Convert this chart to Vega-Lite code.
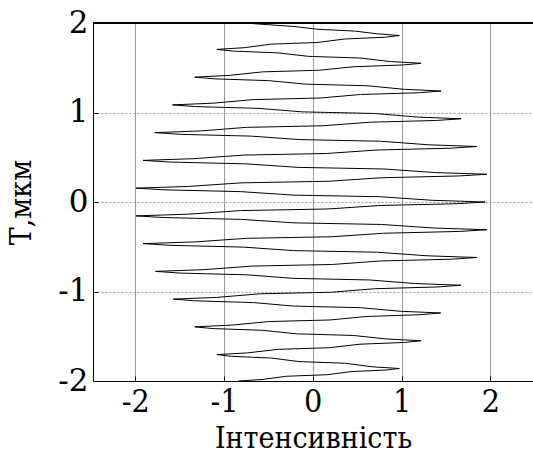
{
  "$schema": "https://vega.github.io/schema/vega-lite/v6.json",
  "width": 440,
  "height": 358,
  "autosize": {"type": "none"},
  "padding": {"left": 93, "top": 23, "right": 0, "bottom": 74},
  "background": "white",
  "config": {
    "view": {"stroke": null}
  },
  "data": {
    "values": [
      {"x": -0.7, "y": 1.995},
      {"x": -0.2, "y": 1.96}, {"x": 0.05, "y": 1.93}, {"x": 0.47, "y": 1.91}, {"x": 0.72, "y": 1.88}, {"x": 0.975, "y": 1.86},
      {"x": 0.811, "y": 1.841}, {"x": 0.358, "y": 1.821}, {"x": 0.05, "y": 1.782}, {"x": -0.464, "y": 1.764}, {"x": -0.772, "y": 1.724}, {"x": -1.08, "y": 1.705},
      {"x": -0.896, "y": 1.686}, {"x": -0.39, "y": 1.666}, {"x": -0.045, "y": 1.627}, {"x": 0.53, "y": 1.609}, {"x": 0.875, "y": 1.569}, {"x": 1.22, "y": 1.55},
      {"x": 1.016, "y": 1.531}, {"x": 0.455, "y": 1.511}, {"x": 0.072, "y": 1.472}, {"x": -0.565, "y": 1.454}, {"x": -0.948, "y": 1.414}, {"x": -1.33, "y": 1.395},
      {"x": -1.108, "y": 1.376}, {"x": -0.498, "y": 1.356}, {"x": -0.081, "y": 1.317}, {"x": 0.612, "y": 1.299}, {"x": 1.029, "y": 1.259}, {"x": 1.445, "y": 1.24},
      {"x": 1.203, "y": 1.221}, {"x": 0.538, "y": 1.201}, {"x": 0.084, "y": 1.162}, {"x": -0.672, "y": 1.144}, {"x": -1.126, "y": 1.104}, {"x": -1.58, "y": 1.085},
      {"x": -1.32, "y": 1.066}, {"x": -0.605, "y": 1.046}, {"x": -0.118, "y": 1.007}, {"x": 0.695, "y": 0.989}, {"x": 1.182, "y": 0.949}, {"x": 1.67, "y": 0.93},
      {"x": 1.394, "y": 0.911}, {"x": 0.635, "y": 0.891}, {"x": 0.118, "y": 0.852}, {"x": -0.745, "y": 0.834}, {"x": -1.262, "y": 0.794}, {"x": -1.78, "y": 0.775},
      {"x": -1.49, "y": 0.756}, {"x": -0.691, "y": 0.736}, {"x": -0.146, "y": 0.697}, {"x": 0.761, "y": 0.679}, {"x": 1.306, "y": 0.639}, {"x": 1.85, "y": 0.62},
      {"x": 1.549, "y": 0.601}, {"x": 0.722, "y": 0.581}, {"x": 0.158, "y": 0.542}, {"x": -0.782, "y": 0.524}, {"x": -1.346, "y": 0.484}, {"x": -1.91, "y": 0.465},
      {"x": -1.6, "y": 0.446}, {"x": -0.749, "y": 0.426}, {"x": -0.168, "y": 0.387}, {"x": 0.799, "y": 0.369}, {"x": 1.38, "y": 0.329}, {"x": 1.96, "y": 0.31},
      {"x": 1.644, "y": 0.291}, {"x": 0.775, "y": 0.271}, {"x": 0.182, "y": 0.232}, {"x": -0.805, "y": 0.214}, {"x": -1.398, "y": 0.174}, {"x": -1.99, "y": 0.155},
      {"x": -1.676, "y": 0.136}, {"x": -0.811, "y": 0.116}, {"x": -0.222, "y": 0.077}, {"x": 0.761, "y": 0.059}, {"x": 1.35, "y": 0.019}, {"x": 1.94, "y": 0.0},
      {"x": 1.626, "y": -0.019}, {"x": 0.761, "y": -0.039}, {"x": 0.172, "y": -0.078}, {"x": -0.811, "y": -0.096}, {"x": -1.4, "y": -0.136}, {"x": -1.99, "y": -0.155},
      {"x": -1.674, "y": -0.174}, {"x": -0.805, "y": -0.194}, {"x": -0.212, "y": -0.233}, {"x": 0.775, "y": -0.251}, {"x": 1.368, "y": -0.291}, {"x": 1.96, "y": -0.31},
      {"x": 1.65, "y": -0.329}, {"x": 0.799, "y": -0.349}, {"x": 0.218, "y": -0.388}, {"x": -0.749, "y": -0.406}, {"x": -1.33, "y": -0.446}, {"x": -1.91, "y": -0.465},
      {"x": -1.609, "y": -0.484}, {"x": -0.782, "y": -0.504}, {"x": -0.218, "y": -0.543}, {"x": 0.722, "y": -0.561}, {"x": 1.286, "y": -0.601}, {"x": 1.85, "y": -0.62},
      {"x": 1.56, "y": -0.639}, {"x": 0.764, "y": -0.659}, {"x": 0.221, "y": -0.698}, {"x": -0.684, "y": -0.716}, {"x": -1.227, "y": -0.756}, {"x": -1.77, "y": -0.775},
      {"x": -1.495, "y": -0.794}, {"x": -0.738, "y": -0.814}, {"x": -0.222, "y": -0.853}, {"x": 0.638, "y": -0.871}, {"x": 1.154, "y": -0.911}, {"x": 1.67, "y": -0.93},
      {"x": 1.411, "y": -0.949}, {"x": 0.698, "y": -0.969}, {"x": 0.212, "y": -1.008}, {"x": -0.598, "y": -1.026}, {"x": -1.084, "y": -1.066}, {"x": -1.57, "y": -1.085},
      {"x": -1.329, "y": -1.104}, {"x": -0.667, "y": -1.124}, {"x": -0.216, "y": -1.163}, {"x": 0.537, "y": -1.181}, {"x": 0.988, "y": -1.221}, {"x": 1.44, "y": -1.24},
      {"x": 1.218, "y": -1.259}, {"x": 0.609, "y": -1.279}, {"x": 0.194, "y": -1.318}, {"x": -0.499, "y": -1.336}, {"x": -0.914, "y": -1.376}, {"x": -1.33, "y": -1.395},
      {"x": -1.126, "y": -1.414}, {"x": -0.565, "y": -1.434}, {"x": -0.182, "y": -1.473}, {"x": 0.455, "y": -1.491}, {"x": 0.838, "y": -1.531}, {"x": 1.22, "y": -1.55},
      {"x": 1.036, "y": -1.569}, {"x": 0.53, "y": -1.589}, {"x": 0.185, "y": -1.628}, {"x": -0.39, "y": -1.646}, {"x": -0.735, "y": -1.686}, {"x": -1.08, "y": -1.705},
      {"x": -0.916, "y": -1.724}, {"x": -0.464, "y": -1.744}, {"x": -0.155, "y": -1.783}, {"x": 0.358, "y": -1.801}, {"x": 0.667, "y": -1.841}, {"x": 0.975, "y": -1.86},
      {"x": 0.83, "y": -1.877}, {"x": 0.43, "y": -1.895}, {"x": 0.158, "y": -1.93}, {"x": -0.295, "y": -1.947}, {"x": -0.568, "y": -1.983}, {"x": -0.84, "y": -2.0}
    ]
  },
  "layer": [
    {
      "mark": {"type": "line", "color": "black", "strokeWidth": 1, "clip": true},
      "encoding": {
        "order": {"value": null},
        "x": {
          "field": "x", "type": "quantitative",
          "scale": {"domain": [-2.475, 2.48], "nice": false, "zero": false},
          "axis": {
            "values": [-2, -1, 0, 1, 2],
            "title": "Інтенсивність",
            "titleFont": "DejaVu Serif Condensed",
            "titleFontSize": 30, "titleFontWeight": "normal", "titleColor": "#000000",
            "titleBaseline": "alphabetic", "titleY": 66,
            "labelFont": "DejaVu Serif Condensed",
            "labelFontSize": 32, "labelColor": "#000000",
            "labelBaseline": "alphabetic", "labelPadding": 35,
            "labelExpr": "datum.value < 0 ? '-' + abs(datum.value) : '' + datum.value",
            "labelFlush": false, "labelOverlap": false,
            "domainColor": "black", "tickColor": "black", "tickSize": -5,
            "grid": true, "gridColor": "#999999", "gridWidth": 1
          }
        },
        "y": {
          "field": "y", "type": "quantitative",
          "scale": {"domain": [-2, 2], "nice": false, "zero": false},
          "axis": {
            "values": [-2, -1, 0, 1, 2],
            "title": "Т,мкм",
            "titleFont": "DejaVu Serif Condensed",
            "titleFontSize": 30, "titleFontWeight": "normal", "titleColor": "#000000",
            "titleBaseline": "alphabetic", "titleX": -63, "titleY": 179, "titleAngle": -90,
            "labelFont": "DejaVu Serif",
            "labelFontSize": 31, "labelColor": "#000000",
            "labelPadding": 10, "labelBaseline": "middle",
            "labelExpr": "datum.value < 0 ? '-' + abs(datum.value) : '' + datum.value",
            "labelFlush": false, "labelOverlap": false,
            "domainColor": "black", "tickColor": "black", "tickSize": -5,
            "grid": true, "gridColor": "#999999", "gridWidth": 1, "gridDash": [2, 2]
          }
        }
      }
    },
    {
      "mark": {"type": "rule", "color": "black", "strokeWidth": 1},
      "encoding": {"y": {"datum": 2}}
    }
  ]
}
